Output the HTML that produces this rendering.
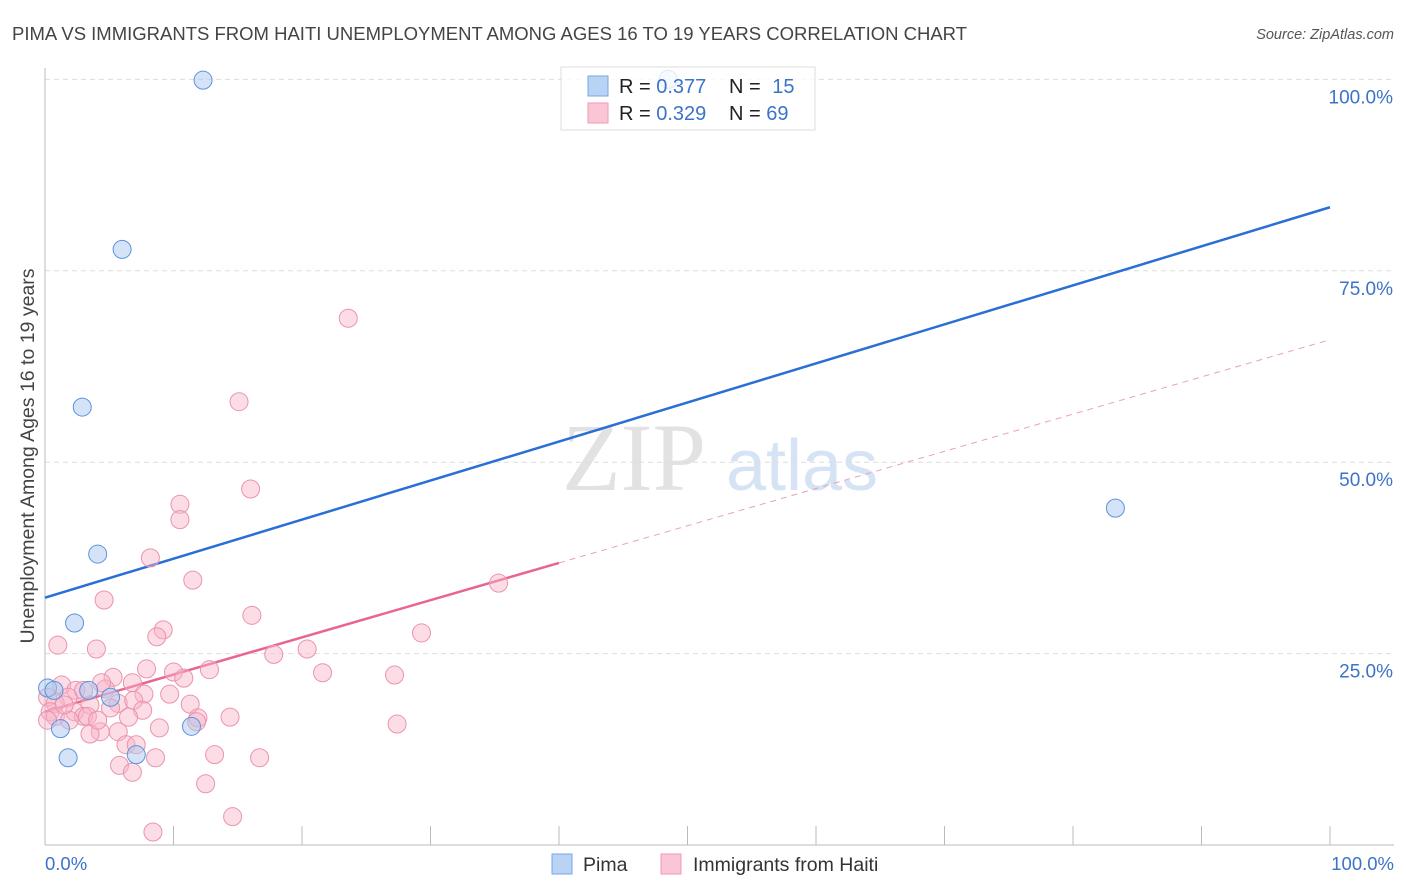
<!DOCTYPE html>
<html><head><meta charset="utf-8"><style>
body{margin:0;background:#fff;font-family:"Liberation Sans",sans-serif;}
svg{display:block}
</style></head><body>
<svg id="chart" width="1406" height="892" xmlns="http://www.w3.org/2000/svg">
<text x="12" y="40" font-size="18.5" fill="#444">PIMA VS IMMIGRANTS FROM HAITI UNEMPLOYMENT AMONG AGES 16 TO 19 YEARS CORRELATION CHART</text>
<text x="1394" y="39" font-size="14.5" fill="#555" font-style="italic" text-anchor="end">Source: ZipAtlas.com</text>
<g>
<text x="634" y="490" font-size="96" fill="#e2e2e2" font-family="Liberation Serif,serif" text-anchor="middle">ZIP</text>
<text x="802" y="490" font-size="72" fill="#d5e3f5" text-anchor="middle">atlas</text>
</g>
<g id="grid"></g>
<line x1="45" y1="68" x2="45" y2="845" stroke="#bbb"/>
<line x1="45" y1="845" x2="1394" y2="845" stroke="#bbb"/>
<g id="ticks"></g>
<g id="lines"></g>
<g id="points"></g>
<text transform="translate(34,456) rotate(-90)" font-size="19.5" fill="#444" text-anchor="middle">Unemployment Among Ages 16 to 19 years</text>
<text x="45" y="870" font-size="18.5" fill="#3b73c8">0.0%</text>
<text x="1394" y="870" font-size="18.5" fill="#3b73c8" text-anchor="end">100.0%</text>
<g>
<rect x="561" y="67" width="254" height="63" fill="rgba(255,255,255,0.8)" stroke="#ddd"/>
<rect x="588" y="76" width="20" height="20" fill="#b9d3f5" stroke="#7ba6e0"/>
<rect x="588" y="103" width="20" height="20" fill="#fac5d4" stroke="#ee9ab3"/>
<text x="619" y="93" font-size="20" fill="#222">R = <tspan fill="#3b73c8">0.377</tspan></text>
<text x="729" y="93" font-size="20" fill="#222">N = <tspan fill="#3b73c8" dx="6">15</tspan></text>
<text x="619" y="120" font-size="20" fill="#222">R = <tspan fill="#3b73c8">0.329</tspan></text>
<text x="729" y="120" font-size="20" fill="#222">N = <tspan fill="#3b73c8">69</tspan></text>
</g>
<g>
<rect x="552" y="854" width="20" height="20" fill="#b9d3f5" stroke="#7ba6e0"/>
<text x="583" y="871" font-size="19.5" fill="#333">Pima</text>
<rect x="661" y="854" width="20" height="20" fill="#fac5d4" stroke="#ee9ab3"/>
<text x="693" y="871" font-size="19.5" fill="#333">Immigrants from Haiti</text>
</g>
</svg>
<script>
const yTicks=[25,50,75,100];
const yTickLabels=["25.0%","50.0%","75.0%","100.0%"];
const xTicks=[10,20,30,40,50,60,70,80,90,100];
const pimaX=[12.3,48.5,6.0,2.9,4.1,2.3,0.2,0.7,3.4,5.1,1.2,1.8,7.1,11.4,83.3];
const pimaY=[99.9,100,77.8,57.2,38.0,29.0,20.5,20.2,20.2,19.3,15.2,11.4,11.8,15.5,44.0];
const haitiX=[23.6,15.1,16.0,10.5,10.5,8.2,11.5,35.3,4.6,16.1,9.2,8.7,29.3,1.0,4.0,20.4,17.8,7.9,10.0,12.8,5.3,6.8,10.8,27.2,21.6,4.7,1.3,2.4,0.2,1.8,7.7,9.7,0.8,3.5,5.7,6.9,11.3,7.6,2.3,3.0,3.3,11.9,14.4,0.4,0.8,1.9,0.2,8.9,11.8,5.7,4.3,3.5,6.3,7.1,27.4,13.2,8.6,16.7,5.8,6.8,12.5,14.6,8.4,5.1,6.5,4.4,3.0,1.5,4.1];
const haitiY=[68.8,57.9,46.5,44.5,42.5,37.5,34.6,34.2,32.0,30.0,28.1,27.2,27.7,26.1,25.6,25.6,24.9,23.0,22.6,22.9,21.9,21.2,21.8,22.2,22.5,20.4,20.9,20.2,19.3,19.3,19.7,19.7,18.5,18.3,18.5,18.9,18.4,17.6,17.4,16.8,16.8,16.6,16.7,17.4,16.8,16.3,16.3,15.3,16.1,14.8,14.8,14.5,13.1,13.1,15.8,11.8,11.4,11.4,10.4,9.5,8.0,3.7,1.7,17.9,16.7,21.2,20.2,18.3,16.3];
const pimaTrend=[32.3,83.3];
const haitiTrend=[17.4,66.0];
const haitiSolidEnd=40;
const sx=v=>45+v*12.85, sy=v=>845-v*7.656;
const NS="http://www.w3.org/2000/svg";
function mk(tag,attrs,parent){const e=document.createElementNS(NS,tag);for(const k in attrs)e.setAttribute(k,attrs[k]);document.getElementById(parent).appendChild(e);return e;}
yTicks.forEach((t,i)=>{
 const g=mk('line',{x1:45,x2:1394,y1:sy(t),y2:sy(t),stroke:'#ddd','stroke-dasharray':'5,4'},'grid');
 
 
 const l=mk('text',{x:1393,y:sy(t)+24,'font-size':19,fill:'#3b73c8','text-anchor':'end'},'grid');
 l.textContent=yTickLabels[i];
 
 
});
xTicks.forEach(t=>{
 const l=mk('line',{x1:sx(t),x2:sx(t),y1:826,y2:845,stroke:'#bbb'},'ticks');
 
 
});
let ln=mk('line',{x1:sx(0),y1:sy(pimaTrend[0]),x2:sx(100),y2:sy(pimaTrend[1]),stroke:'#2a6fd6','stroke-width':2.5},'lines');


const hy=x=>haitiTrend[0]+(haitiTrend[1]-haitiTrend[0])*x/100;
ln=mk('line',{x1:sx(0),y1:sy(hy(0)),x2:sx(haitiSolidEnd),y2:sy(hy(haitiSolidEnd)),stroke:'#e86590','stroke-width':2.5},'lines');


ln=mk('line',{x1:sx(haitiSolidEnd),y1:sy(hy(haitiSolidEnd)),x2:sx(100),y2:sy(hy(100)),stroke:'#eaa0b8','stroke-width':1,'stroke-dasharray':'6,5'},'lines');


haitiX.forEach((x,i)=>{
 const c=mk('circle',{cx:sx(x),cy:sy(haitiY[i]),r:9,fill:'rgba(248,180,200,0.45)',stroke:'#eb93ae','stroke-width':1},'points');
 
 
});
pimaX.forEach((x,i)=>{
 const c=mk('circle',{cx:sx(x),cy:sy(pimaY[i]),r:9,fill:'rgba(170,200,240,0.5)',stroke:'#5d93db','stroke-width':1},'points');
 
 
});
</script>
</body></html>
